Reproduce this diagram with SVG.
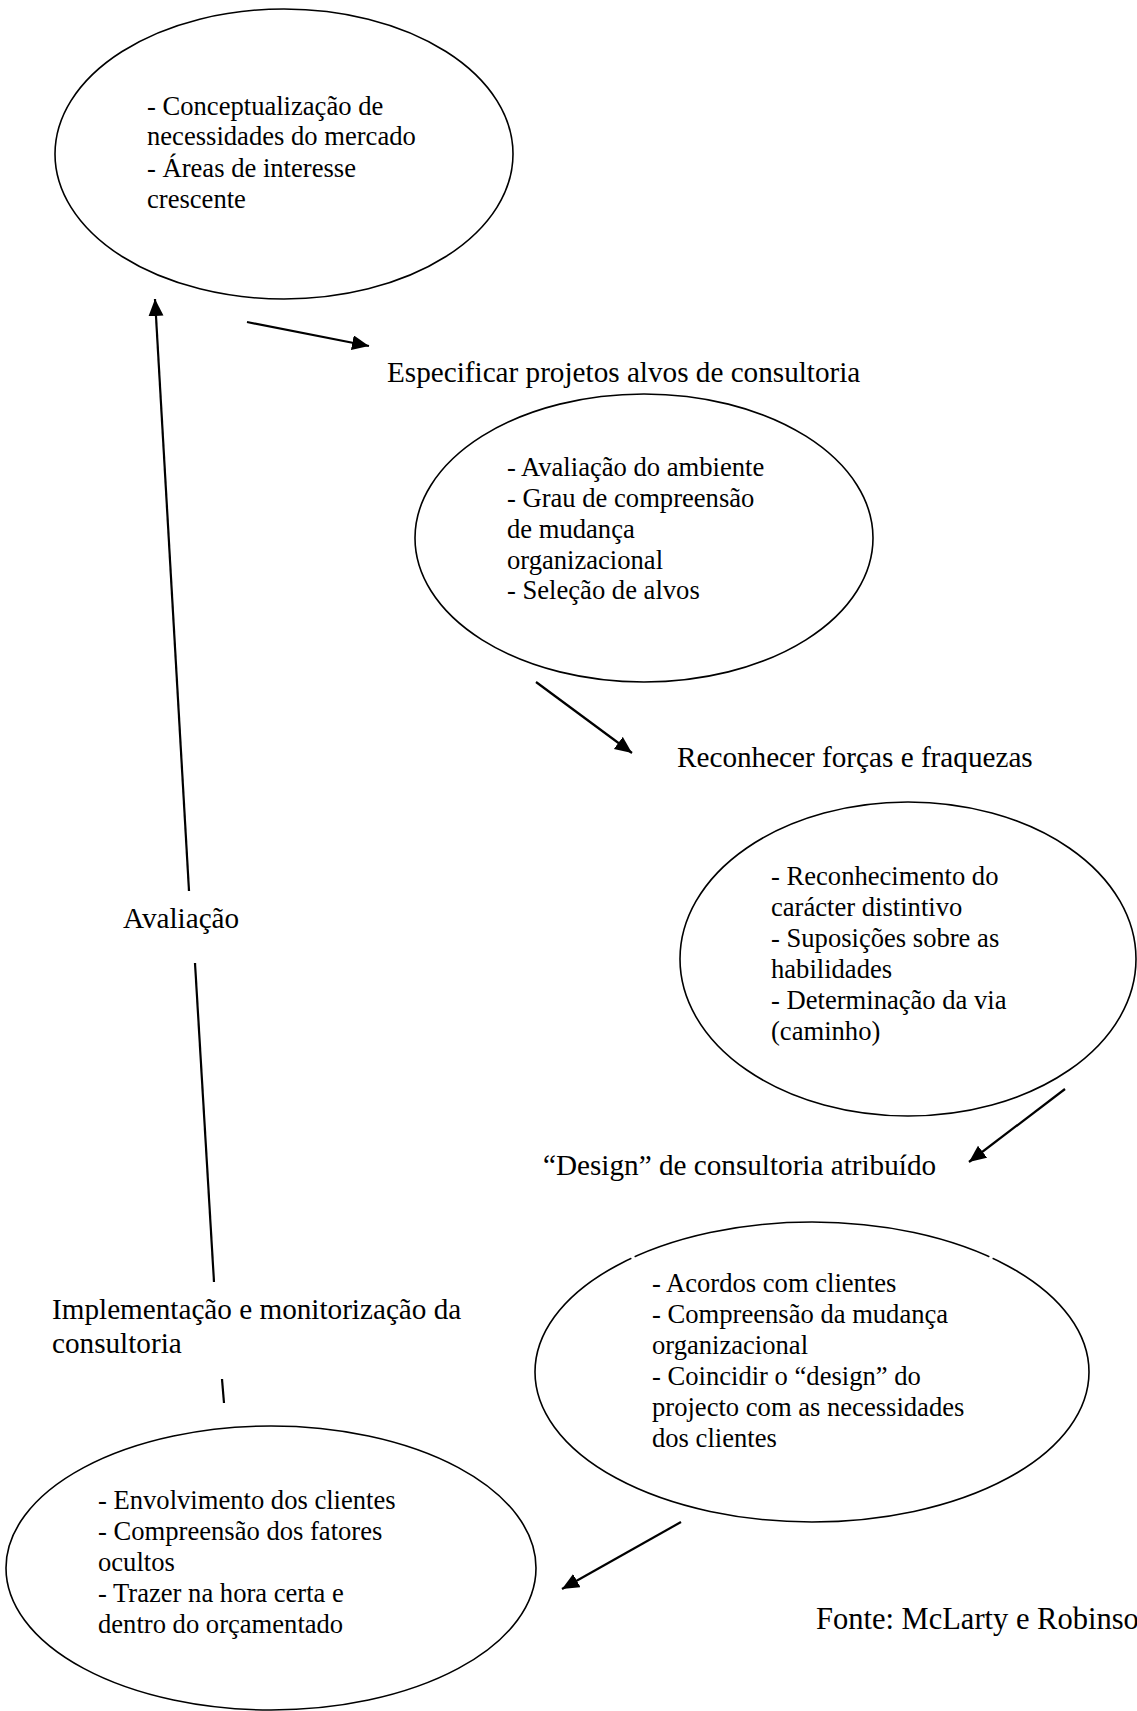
<svg xmlns="http://www.w3.org/2000/svg" width="1137" height="1711" viewBox="0 0 1137 1711">
  <style>
    .bubble { fill: none; stroke: #000; stroke-width: 1.6; }
    .txt { font-family: "Liberation Serif", "Times New Roman", serif; font-size: 26.6px; fill: #000; }
    .lbl { font-family: "Liberation Serif", "Times New Roman", serif; font-size: 29.2px; fill: #000; }
    .src { font-family: "Liberation Serif", "Times New Roman", serif; font-size: 30.5px; fill: #000; }
    .conn { fill: none; stroke: #000; stroke-width: 2.2; stroke-linecap: butt; }
    .gap { stroke: #fff; stroke-width: 4; }
  </style>
  <defs>
    <marker id="head" markerUnits="userSpaceOnUse" markerWidth="18" markerHeight="16" refX="17" refY="7.5" orient="auto">
      <path d="M0,0 L17,7.5 L0,15 z" fill="#000"/>
    </marker>
  </defs>
  <rect width="1137" height="1711" fill="#fff"/>

  <!-- market needs -->
  <g id="node-mercado">
    <ellipse class="bubble" cx="284" cy="154" rx="229" ry="145"/>
    <text class="txt" x="147" y="115">- Conceptualização de</text>
    <text class="txt" x="147" y="145">necessidades do mercado</text>
    <text class="txt" x="147" y="177">- Áreas de interesse</text>
    <text class="txt" x="147" y="208">crescente</text>
  </g>

  <g id="label-especificar">
    <text class="lbl" x="387" y="382">Especificar projetos alvos de consultoria</text>
  </g>

  <!-- environment assessment -->
  <g id="node-ambiente">
    <ellipse class="bubble" cx="644" cy="538" rx="229" ry="144"/>
    <text class="txt" x="507" y="476">- Avaliação do ambiente</text>
    <text class="txt" x="507" y="507">- Grau de compreensão</text>
    <text class="txt" x="507" y="538">de mudança</text>
    <text class="txt" x="507" y="569">organizacional</text>
    <text class="txt" x="507" y="599">- Seleção de alvos</text>
  </g>

  <g id="label-reconhecer">
    <text class="lbl" x="677" y="767">Reconhecer forças e fraquezas</text>
  </g>

  <!-- strengths and weaknesses -->
  <g id="node-forcas">
    <ellipse class="bubble" cx="908" cy="959" rx="228" ry="157"/>
    <text class="txt" x="771" y="885">- Reconhecimento do</text>
    <text class="txt" x="771" y="916">carácter distintivo</text>
    <text class="txt" x="771" y="947">- Suposições sobre as</text>
    <text class="txt" x="771" y="978">habilidades</text>
    <text class="txt" x="771" y="1009">- Determinação da via</text>
    <text class="txt" x="771" y="1040">(caminho)</text>
  </g>

  <g id="label-design">
    <text class="lbl" x="543" y="1175">“Design” de consultoria atribuído</text>
  </g>

  <!-- client agreements -->
  <g id="node-acordos">
    <ellipse class="bubble" cx="812" cy="1372" rx="277" ry="150"/>
    <line class="gap" x1="631.4" y1="1258.3" x2="634.6" y2="1256.8"/>
    <line class="gap" x1="989.4" y1="1256.8" x2="992.6" y2="1258.3"/>
    <text class="txt" x="652" y="1292">- Acordos com clientes</text>
    <text class="txt" x="652" y="1323">- Compreensão da mudança</text>
    <text class="txt" x="652" y="1354">organizacional</text>
    <text class="txt" x="652" y="1385">- Coincidir o “design” do</text>
    <text class="txt" x="652" y="1416">projecto com as necessidades</text>
    <text class="txt" x="652" y="1447">dos clientes</text>
  </g>

  <g id="label-implementacao">
    <text class="lbl" x="52" y="1319">Implementação e monitorização da</text>
    <text class="lbl" x="52" y="1353">consultoria</text>
  </g>

  <!-- client involvement -->
  <g id="node-envolvimento">
    <ellipse class="bubble" cx="271" cy="1568" rx="265" ry="142"/>
    <text class="txt" x="98" y="1509">- Envolvimento dos clientes</text>
    <text class="txt" x="98" y="1540">- Compreensão dos fatores</text>
    <text class="txt" x="98" y="1571">ocultos</text>
    <text class="txt" x="98" y="1602">- Trazer na hora certa e</text>
    <text class="txt" x="98" y="1633">dentro do orçamentado</text>
  </g>

  <g id="label-avaliacao">
    <text class="lbl" x="123" y="928">Avaliação</text>
  </g>

  <g id="source">
    <text class="src" x="816" y="1629">Fonte: McLarty e Robinso</text>
  </g>

  <!-- cycle connectors -->
  <g id="connectors">
    <line class="conn" x1="247" y1="322" x2="369" y2="346" marker-end="url(#head)"/>
    <line class="conn" x1="536" y1="682" x2="632" y2="753" marker-end="url(#head)"/>
    <line class="conn" x1="1065" y1="1089" x2="969" y2="1162" marker-end="url(#head)"/>
    <line class="conn" x1="681" y1="1522" x2="562" y2="1589" marker-end="url(#head)"/>
    <line class="conn" x1="222" y1="1379" x2="224" y2="1403"/>
    <line class="conn" x1="195" y1="963" x2="214" y2="1282"/>
    <line class="conn" x1="189" y1="891" x2="155" y2="299" marker-end="url(#head)"/>
  </g>
</svg>
